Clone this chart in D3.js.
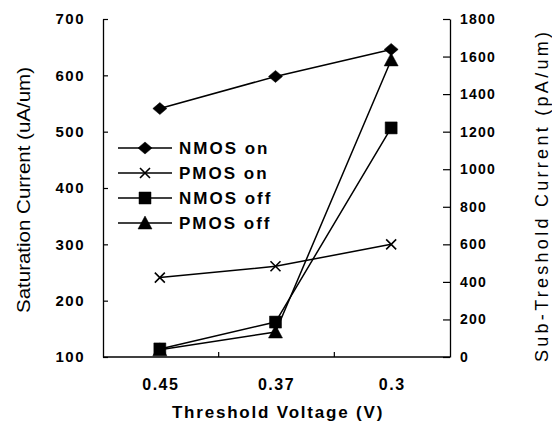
<!DOCTYPE html>
<html>
<head>
<meta charset="utf-8">
<script src="https://cdn.jsdelivr.net/npm/d3@7"></script>
<style>
  body { margin: 0; background: #fff; }
  text { font-family: Arial, "Liberation Sans", sans-serif; fill: #000; }
</style>
</head>
<body>
<div class="chartContainer"></div>
<script>
// data
var voltages = ['0.45', '0.37', '0.3'];
var nmosOn  = [541, 598, 646];   // uA/um, left axis
var pmosOn  = [241, 261, 300];   // uA/um, left axis
var nmosOff = [43, 186, 1220];   // pA/um, right axis
var pmosOff = [38, 133, 1582];   // pA/um, right axis
var leftTicks = [100, 200, 300, 400, 500, 600, 700];
var rightTicks = [0, 200, 400, 600, 800, 1000, 1200, 1400, 1600, 1800];

var series = [
    {name: 'NMOS on',  values: nmosOn,  axis: 'left',  marker: 'diamond'},
    {name: 'PMOS on',  values: pmosOn,  axis: 'left',  marker: 'cross'},
    {name: 'NMOS off', values: nmosOff, axis: 'right', marker: 'square'},
    {name: 'PMOS off', values: pmosOff, axis: 'right', marker: 'triangle'}
];

function markerPath(type) {
    if (type === 'diamond') return 'M-7,0L0,-6L7,0L0,6Z';
    if (type === 'square') return 'M-6,-6H6V6H-6Z';
    if (type === 'triangle') return 'M0,-7L7,6H-7Z';
    return 'M-5,-5L5,5M-5,5L5,-5';
}

function Graph() {
    const width = 552, height = 424;
    const left = 103, right = 450, top = 19, bottom = 357;

    const xScale = d3.scaleBand()
                     .domain(voltages)
                     .range([left, right])
                     .padding(0);
    const yLeft = d3.scaleLinear().domain([100, 700]).range([bottom, top]);
    const yRight = d3.scaleLinear().domain([0, 1800]).range([bottom, top]);

    const svg = d3.select('.chartContainer')
                  .append('svg')
                    .attr('width', width)
                    .attr('height', height);

    // left axis
    const gl = svg.append('g')
        .attr('transform', `translate(${left},0)`)
        .call(d3.axisLeft(yLeft).tickValues(leftTicks).tickSizeInner(-5).tickSizeOuter(0).tickPadding(18));
    gl.selectAll('text').style('font-size', '15px').style('font-weight', 'bold').style('letter-spacing', '1.5px');

    // right axis
    const gr = svg.append('g')
        .attr('transform', `translate(${right},0)`)
        .call(d3.axisRight(yRight).tickValues(rightTicks).tickFormat(d3.format('d'))
                .tickSizeInner(-7).tickSizeOuter(0).tickPadding(10));
    gr.selectAll('text').style('font-size', '14px').style('font-weight', 'bold').style('letter-spacing', '1.2px');

    svg.selectAll('.domain').attr('stroke', '#000').attr('stroke-width', 1.3);
    svg.selectAll('.tick line').attr('stroke', '#000').attr('stroke-width', 1.2);

    // bottom axis: line plus ticks between categories
    svg.append('line')
        .attr('x1', left).attr('x2', right)
        .attr('y1', bottom).attr('y2', bottom)
        .attr('stroke', '#000').attr('stroke-width', 1.3);
    svg.selectAll('.xtick')
        .data(voltages.slice(1))
        .enter().append('line')
          .attr('x1', d => xScale(d)).attr('x2', d => xScale(d))
          .attr('y1', bottom).attr('y2', bottom - 5)
          .attr('stroke', '#000').attr('stroke-width', 1.2);
    svg.selectAll('.xlabel')
        .data(voltages)
        .enter().append('text')
          .attr('x', d => xScale(d) + xScale.bandwidth() / 2)
          .attr('y', 390)
          .attr('text-anchor', 'middle')
          .style('font-size', '16px').style('font-weight', 'bold').style('letter-spacing', '1.5px')
          .text(d => d);

    // axis titles
    svg.append('text')
        .attr('x', 278).attr('y', 418)
        .attr('text-anchor', 'middle')
        .style('font-size', '17px').style('font-weight', 'bold').style('letter-spacing', '1.8px')
        .text('Threshold Voltage (V)');

    svg.append('text')
        .attr('transform', 'translate(30,190) rotate(-90)')
        .attr('text-anchor', 'middle')
        .attr('textLength', 246)
        .attr('lengthAdjust', 'spacingAndGlyphs')
        .style('font-size', '18px')
        .text('Saturation Current (uA/um)');

    svg.append('text')
        .attr('transform', 'translate(548,197) rotate(-90)')
        .attr('text-anchor', 'middle')
        .attr('textLength', 330)
        .style('font-size', '18px')
        .text('Sub-Treshold Current (pA/um)');

    // lines and markers
    const cx = d => xScale(d) + xScale.bandwidth() / 2 - 1;
    series.forEach(function(s) {
        const y = s.axis === 'left' ? yLeft : yRight;
        const pts = voltages.map((v, i) => [cx(v), y(s.values[i])]);
        svg.append('path')
            .attr('d', d3.line()(pts))
            .attr('fill', 'none')
            .attr('stroke', '#000')
            .attr('stroke-width', 1.5);
        svg.selectAll(null)
            .data(pts)
            .enter().append('path')
              .attr('transform', p => `translate(${p[0]},${p[1]})`)
              .attr('d', markerPath(s.marker))
              .attr('fill', '#000')
              .attr('stroke', '#000')
              .attr('stroke-width', s.marker === 'cross' ? 1.6 : 0.5);
    });

    // legend
    const legend = svg.append('g').attr('transform', 'translate(118,148)');
    series.forEach(function(s, i) {
        const g = legend.append('g').attr('transform', `translate(0,${i * 25})`);
        g.append('line').attr('x1', 0).attr('x2', 54).attr('y1', 0).attr('y2', 0)
            .attr('stroke', '#000').attr('stroke-width', 1.5);
        g.append('path').attr('transform', 'translate(27,0)')
            .attr('d', markerPath(s.marker))
            .attr('fill', '#000').attr('stroke', '#000')
            .attr('stroke-width', s.marker === 'cross' ? 1.6 : 0.5);
        g.append('text').attr('x', 61).attr('y', 6)
            .style('font-size', '17px').style('font-weight', 'bold').style('letter-spacing', '2px')
            .text(s.name);
    });
}

Graph();
</script>
</body>
</html>
